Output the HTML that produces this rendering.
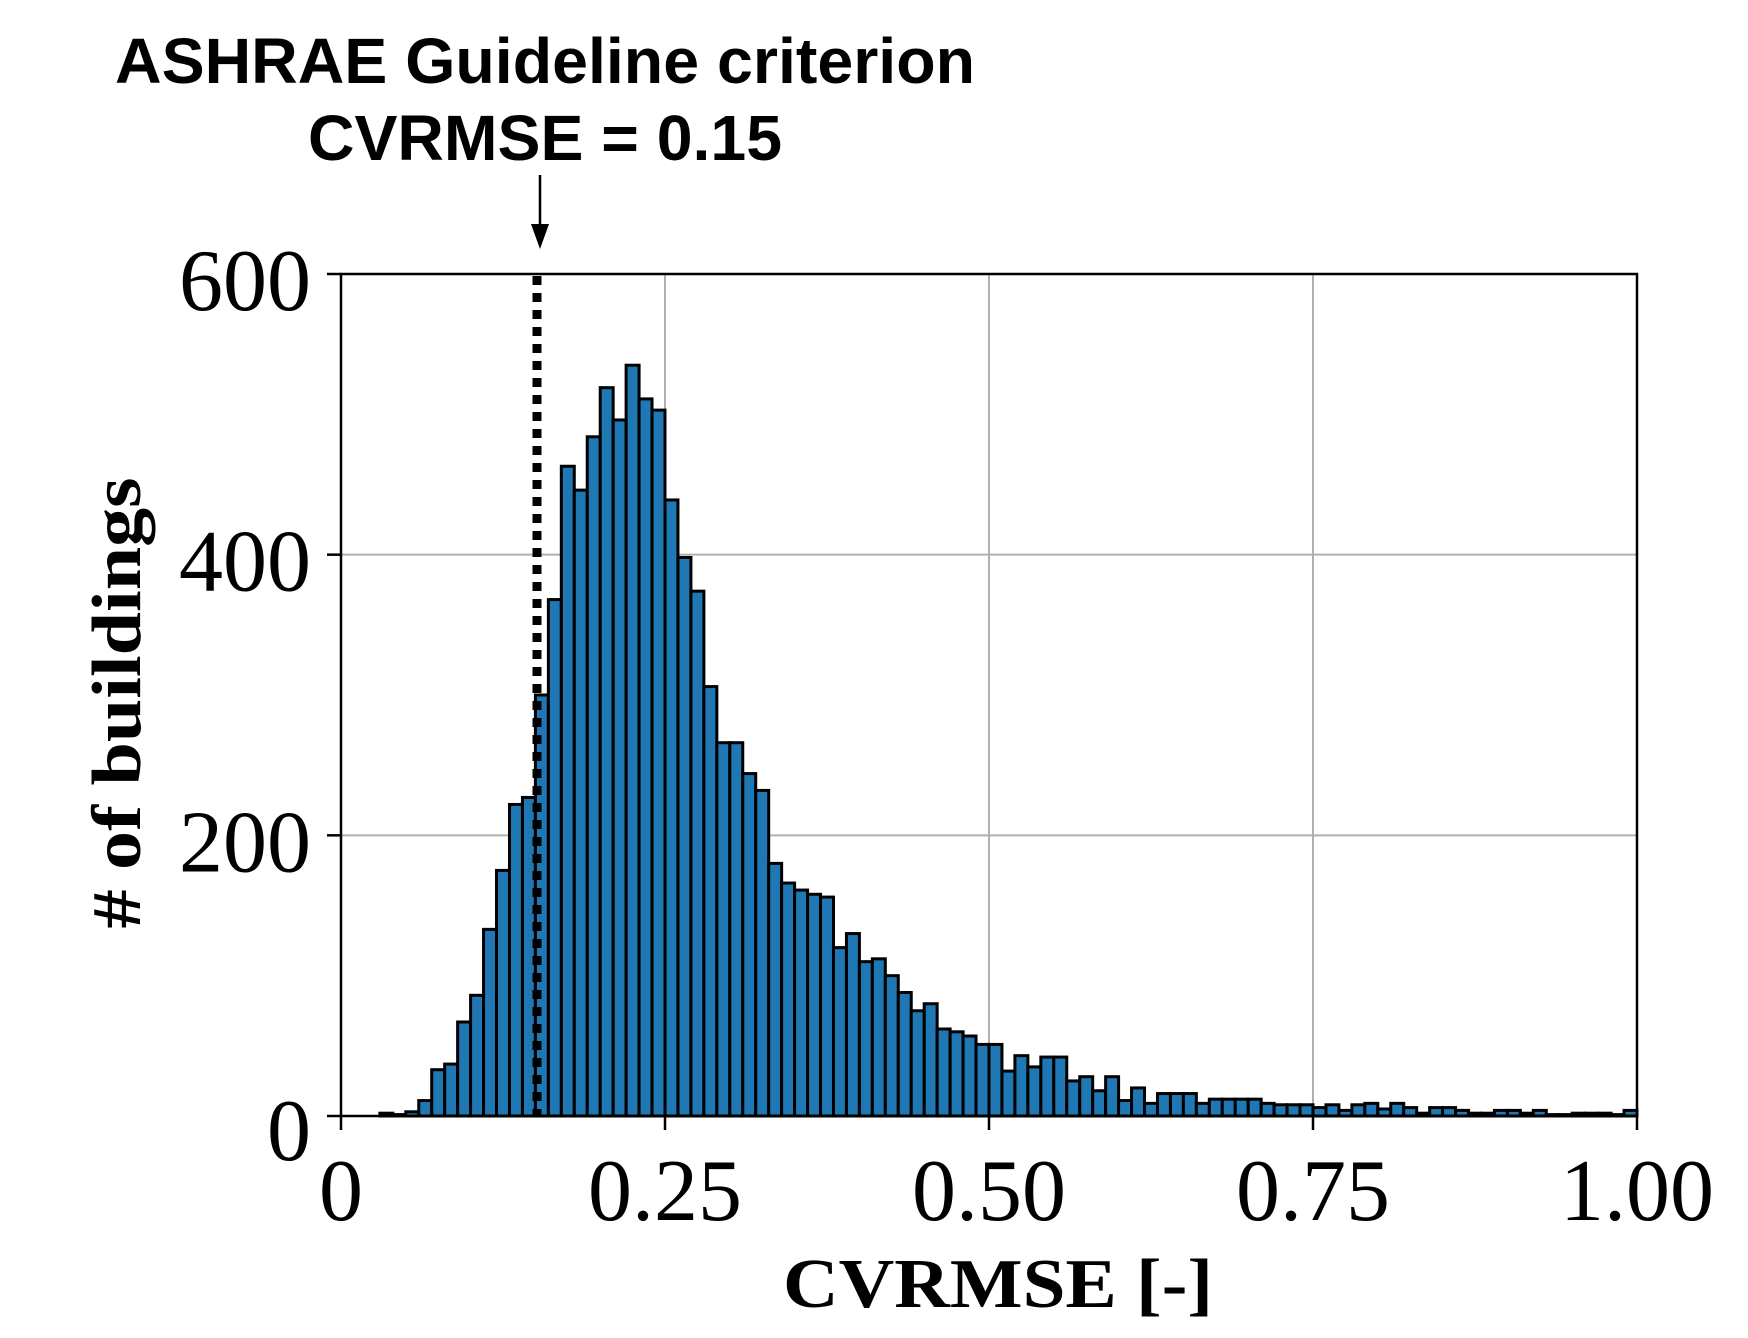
<!DOCTYPE html>
<html><head><meta charset="utf-8"><style>
html,body{margin:0;padding:0;background:#fff;}
svg{display:block;}
</style></head><body>
<svg id="chart" width="1748" height="1338" viewBox="0 0 1748 1338" xmlns="http://www.w3.org/2000/svg">
<g id="grid"></g>
<g id="bars"></g>
<line x1="537" y1="276" x2="537" y2="1116" stroke="#000" stroke-width="9" stroke-dasharray="9,8"/>
<rect x="341" y="274" width="1296" height="842" fill="none" stroke="#000" stroke-width="2.5"/>
<g id="ticks"></g>
<text x="545" y="83" text-anchor="middle" font-family="Liberation Sans, sans-serif" font-weight="bold" font-size="64" textLength="860" lengthAdjust="spacingAndGlyphs">ASHRAE Guideline criterion</text>
<text x="545" y="160" text-anchor="middle" font-family="Liberation Sans, sans-serif" font-weight="bold" font-size="64" textLength="474" lengthAdjust="spacingAndGlyphs">CVRMSE = 0.15</text>
<line x1="540" y1="175" x2="540" y2="228" stroke="#000" stroke-width="2.5"/>
<polygon points="531,224 549,224 540,249" fill="#000"/>
<text x="998" y="1307" text-anchor="middle" font-family="Liberation Serif, serif" font-weight="bold" font-size="70" textLength="430" lengthAdjust="spacingAndGlyphs">CVRMSE [-]</text>
<text transform="translate(140,703) rotate(-90)" text-anchor="middle" font-family="Liberation Serif, serif" font-weight="bold" font-size="70" textLength="451" lengthAdjust="spacingAndGlyphs"># of buildings</text>
</svg>
<script>
const binStarts = [0.00,0.01,0.02,0.03,0.04,0.05,0.06,0.07,0.08,0.09,0.10,0.11,0.12,0.13,0.14,0.15,0.16,0.17,0.18,0.19,0.20,0.21,0.22,0.23,0.24,0.25,0.26,0.27,0.28,0.29,0.30,0.31,0.32,0.33,0.34,0.35,0.36,0.37,0.38,0.39,0.40,0.41,0.42,0.43,0.44,0.45,0.46,0.47,0.48,0.49,0.50,0.51,0.52,0.53,0.54,0.55,0.56,0.57,0.58,0.59,0.60,0.61,0.62,0.63,0.64,0.65,0.66,0.67,0.68,0.69,0.70,0.71,0.72,0.73,0.74,0.75,0.76,0.77,0.78,0.79,0.80,0.81,0.82,0.83,0.84,0.85,0.86,0.87,0.88,0.89,0.90,0.91,0.92,0.93,0.94,0.95,0.96,0.97,0.98,0.99];
const counts = [0,0,0,2,1,3,11,33,37,67,86,133,175,222,227,300,368,463,446,484,519,496,535,511,503,439,398,374,306,266,266,244,232,180,166,161,158,156,120,130,110,112,100,88,75,80,62,60,57,51,51,32,43,35,42,42,25,28,18,28,11,20,9,16,16,16,9,12,12,12,12,9,8,8,8,6,8,4,8,9,5,9,6,2,6,6,4,2,2,4,4,2,4,1,1,2,2,2,1,4];
const binWidth = 0.01;
const xTicks = [0,0.25,0.5,0.75,1.0];
const xTickLabels = ["0","0.25","0.50","0.75","1.00"];
const yTicks = [0,200,400,600];
const yTickLabels = ["0","200","400","600"];
const L=341,R=1637,T=274,B=1116;
const xS = v => L + (v-0)/(1-0)*(R-L);
const yS = v => B - v/600*(B-T);
const NS="http://www.w3.org/2000/svg";
const mk=(t,a)=>{const e=document.createElementNS(NS,t);for(const k in a)e.setAttribute(k,a[k]);return e;};
const grid=document.getElementById('grid'), bars=document.getElementById('bars'), ticks=document.getElementById('ticks');
xTicks.forEach((v,i)=>{
  if(i>0&&i<xTicks.length-1){const g=mk('line',{x1:xS(v),x2:xS(v),y1:T,y2:B,stroke:'#b0b0b0','stroke-width':2});
  
  grid.appendChild(g);}
  const t=mk('line',{x1:xS(v),x2:xS(v),y1:B,y2:B+14,stroke:'#000','stroke-width':2.5});
  
  ticks.appendChild(t);
  const l=mk('text',{x:xS(v),y:1220,'text-anchor':'middle','font-family':'Liberation Serif, serif','font-size':88});
  
  l.textContent=xTickLabels[i];ticks.appendChild(l);
});
yTicks.forEach((v,i)=>{
  if(i>0&&i<yTicks.length-1){const g=mk('line',{x1:L,x2:R,y1:yS(v),y2:yS(v),stroke:'#b0b0b0','stroke-width':2});
  
  grid.appendChild(g);}
  const t=mk('line',{x1:L-14,x2:L,y1:yS(v),y2:yS(v),stroke:'#000','stroke-width':2.5});
  
  ticks.appendChild(t);
  const l=mk('text',{x:311,y:yS(v)+(v===0?44:36),'text-anchor':'end','font-family':'Liberation Serif, serif','font-size':88});
  
  l.textContent=yTickLabels[i];ticks.appendChild(l);
});
binStarts.forEach((s,i)=>{
  if(counts[i]<=0)return;
  const x0=xS(s),x1=xS(s+binWidth),y=yS(counts[i]);
  const r=mk('rect',{x:x0,y:y,width:x1-x0,height:B-y,fill:'#1f77b4',stroke:'#000','stroke-width':3});
  
  
  bars.appendChild(r);
});
</script>
</body></html>
